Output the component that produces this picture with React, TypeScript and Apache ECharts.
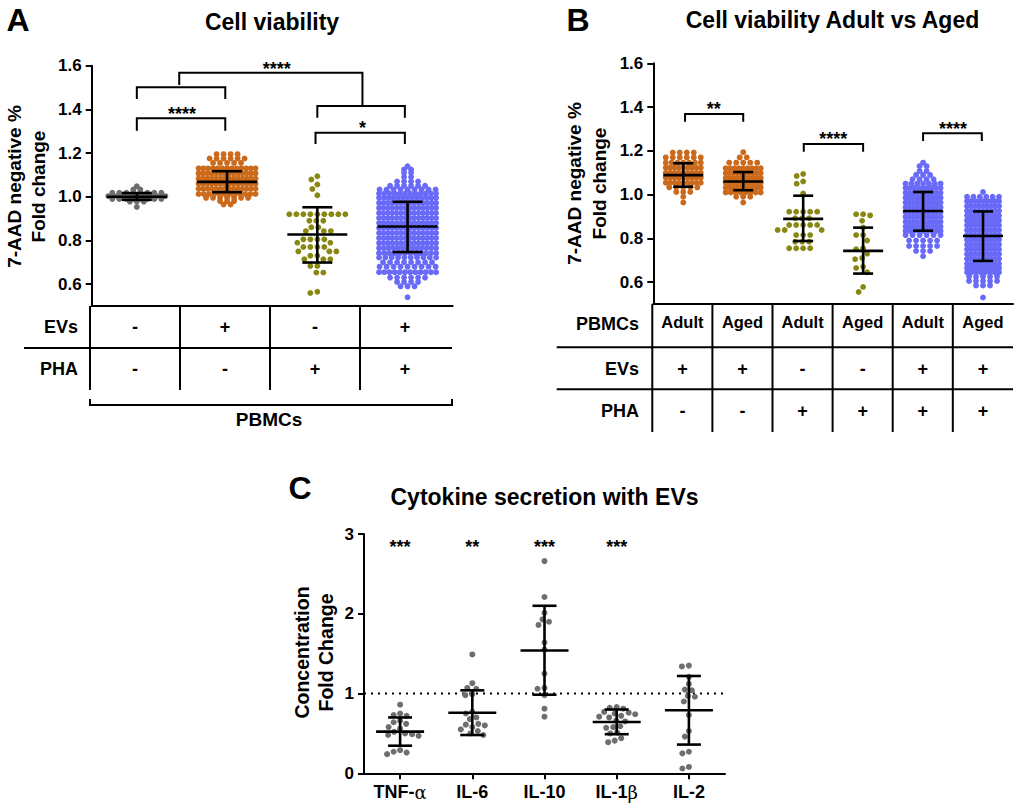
import React, { useEffect, useRef } from "react";
import * as echarts from "echarts";

const FONT = "'Liberation Sans', Arial, Helvetica, sans-serif";

// ---------------- Panel A: Cell viability ----------------
const aEVs = ["-", "+", "-", "+"];
const aPHA = ["-", "-", "+", "+"];
const aTicks = [0.6, 0.8, 1.0, 1.2, 1.4, 1.6];
// [value, number of points in that row of the swarm]
const aGrayRows = [[1.048, 1], [1.033, 2], [1.018, 8], [1.003, 14], [0.99, 8], [0.978, 3], [0.953, 1]];
const aOrangeRows = [
  [1.195, 4], [1.175, 6], [1.155, 5], [1.13, 13], [1.107, 14], [1.083, 14], [1.06, 14], [1.037, 14],
  [1.013, 12], [0.995, 7], [0.98, 3], [0.965, 2],
];
const aOliveValues = [
  1.094, 1.079, 1.056, 1.036, 1.007, 0.92, 0.92, 0.92, 0.92, 0.92, 0.92, 0.92, 0.92, 0.92, 0.89, 0.89,
  0.89, 0.861, 0.861, 0.843, 0.843, 0.843, 0.805, 0.805, 0.805, 0.805, 0.79, 0.79, 0.77, 0.77, 0.77,
  0.77, 0.75, 0.75, 0.75, 0.73, 0.73, 0.714, 0.714, 0.714, 0.683, 0.683, 0.653, 0.653, 0.565, 0.56,
];
const aBlueRows = [
  [1.14, 1], [1.125, 2], [1.11, 2], [1.09, 2], [1.07, 4], [1.05, 6], [1.033, 9], [1.015, 12],
  [0.995, 13], [0.972, 14], [0.949, 14], [0.926, 14], [0.903, 14], [0.88, 14], [0.857, 14], [0.834, 14],
  [0.811, 14], [0.788, 14], [0.765, 13], [0.742, 12], [0.722, 10], [0.7, 8], [0.68, 9], [0.655, 12],
  [0.63, 6], [0.61, 4], [0.59, 3], [0.54, 1],
];
const aMean = [1.0, 1.068, 0.827, 0.864];
const aSdHigh = [1.017, 1.117, 0.952, 0.977];
const aSdLow = [0.986, 1.021, 0.699, 0.747];
// [xLeft, xRight, yBar, yLeftEnd, yRightEnd]
const aBrackets = [
  [0.47, 2.5, 1.568, 1.512, 1.42],
  [0.0, 0.98, 1.501, 1.448, 1.448],
  [0.0, 0.98, 1.359, 1.302, 1.302],
  [2.0, 2.97, 1.416, 1.362, 1.362],
  [1.98, 2.97, 1.293, 1.242, 1.242],
];
const aStars = [[1.55, 1.602], [0.5, 1.397], [2.5, 1.334]];
const aStarLabels = ["****", "****", "*"];

// ---------------- Panel B: Adult vs Aged ----------------
const bPBMCs = ["Adult", "Aged", "Adult", "Aged", "Adult", "Aged"];
const bEVs = ["+", "+", "-", "-", "+", "+"];
const bPHA = ["-", "-", "+", "+", "+", "+"];
const bTicks = [0.6, 0.8, 1.0, 1.2, 1.4, 1.6];
const bOrangeAdultRows = [
  [1.192, 4], [1.17, 6], [1.146, 7], [1.123, 9], [1.1, 9], [1.077, 9], [1.054, 9], [1.033, 5],
  [1.012, 3], [0.99, 1], [0.964, 1],
];
const bOrangeAgedRows = [
  [1.194, 1], [1.17, 2], [1.146, 5], [1.12, 9], [1.098, 10], [1.076, 10], [1.054, 10], [1.032, 10],
  [1.01, 8], [0.99, 3], [0.964, 1],
];
const bOliveAdultValues = [
  1.094, 1.085, 1.06, 1.05, 1.005, 0.922, 0.922, 0.922, 0.922, 0.922, 0.892, 0.892, 0.892, 0.861,
  0.861, 0.861, 0.861, 0.861, 0.838, 0.838, 0.838, 0.815, 0.815, 0.815, 0.785, 0.785, 0.785, 0.755,
  0.755, 0.755, 0.755,
];
const bOliveAgedValues = [
  0.91, 0.91, 0.905, 0.88, 0.85, 0.815, 0.815, 0.79, 0.755, 0.75, 0.73, 0.71, 0.705, 0.67, 0.665,
  0.645, 0.578, 0.555,
];
const bBlueAdultRows = [
  [1.146, 1], [1.13, 2], [1.108, 2], [1.09, 3], [1.07, 4], [1.05, 7], [1.03, 9], [1.008, 10],
  [0.986, 10], [0.964, 10], [0.942, 10], [0.92, 10], [0.898, 10], [0.876, 10], [0.854, 10],
  [0.834, 9], [0.815, 6], [0.79, 5], [0.765, 5], [0.742, 3], [0.718, 1],
];
const bBlueAgedRows = [
  [1.012, 1], [0.99, 6], [0.97, 9], [0.948, 9], [0.926, 9], [0.904, 9], [0.882, 9], [0.86, 9],
  [0.838, 9], [0.816, 9], [0.794, 9], [0.772, 9], [0.75, 9], [0.728, 9], [0.706, 9], [0.684, 9],
  [0.665, 9], [0.645, 8], [0.625, 5], [0.605, 5], [0.585, 3], [0.53, 1],
];
const bMean = [1.089, 1.06, 0.889, 0.743, 0.925, 0.811];
const bSdHigh = [1.143, 1.103, 0.995, 0.849, 1.012, 0.923];
const bSdLow = [1.036, 1.02, 0.788, 0.639, 0.835, 0.697];
const bBrackets = [
  [0.03, 1.0, 1.368, 1.333, 1.333],
  [2.01, 3.0, 1.231, 1.196, 1.196],
  [4.0, 4.98, 1.28, 1.245, 1.245],
];
const bStars = [[0.51, 1.409], [2.5, 1.272], [4.5, 1.319]];
const bStarLabels = ["**", "****", "****"];

// ---------------- Panel C: Cytokines ----------------
const cLabels = ["TNF-{g|α}", "IL-6", "IL-10", "IL-1{g|β}", "IL-2"];
const cTNF = [0.86, 0.75, 0.73, 0.72, 0.66, 0.64, 0.62, 0.58, 0.56, 0.52, 0.5, 0.49, 0.48, 0.47, 0.29, 0.27, 0.26, 0.24];
const cIL6 = [1.49, 1.13, 1.07, 1.06, 0.99, 0.98, 0.77, 0.75, 0.7, 0.68, 0.62, 0.61, 0.6, 0.58, 0.55, 0.53, 0.5, 0.48];
const cIL10 = [2.66, 2.21, 2.01, 1.93, 1.9, 1.86, 1.64, 1.55, 1.25, 1.07, 1.06, 0.98, 0.81, 0.71];
const cIL1b = [0.83, 0.82, 0.81, 0.77, 0.76, 0.75, 0.74, 0.72, 0.71, 0.7, 0.66, 0.65, 0.59, 0.58, 0.57, 0.51, 0.5, 0.44, 0.41, 0.39];
const cIL2 = [1.35, 1.34, 1.21, 1.12, 1.05, 1.04, 0.97, 0.96, 0.9, 0.73, 0.53, 0.46, 0.27, 0.25, 0.08, 0.06];
const cMean = [0.522, 0.76, 1.54, 0.643, 0.79];
const cSdHigh = [0.7, 1.04, 2.1, 0.8, 1.22];
const cSdLow = [0.346, 0.48, 0.985, 0.49, 0.36];
const cStars = [[0, 2.891], [1, 2.891], [2, 2.891], [3, 2.891]];
const cStarLabels = ["***", "**", "***", "***"];
const cReference = 1;

// ---------------- layout constants ----------------
const GA = { left: 91.7, top: 65.7, width: 361, height: 240.3 };
const GB = { left: 653.3, top: 63.3, width: 359.7, height: 240.7 };
const GC = { left: 364, top: 534, width: 361, height: 239.3 };
const aPxX = GA.width / 4;
const aPxY = GA.height / 1.1;
const bPxX = GB.width / 6;
const bPxY = GB.height / 1.1;
const cPxX = GC.width / 5;
const cPxY = GC.height / 3;

const GRAY = "#6e6e6e";
const ORANGE = "#cc6a1c";
const OLIVE = "#878712";
const BLUE = "#6a6af8";
const DENSE_DOT = 5.9;

// rows of a swarm: dot spacing 7px, squeezed so that a row never exceeds maxW
function rowsToPoints(rows: number[][], cat: number, maxW: number, pxX: number) {
  const pts: number[][] = [];
  rows.forEach(([v, n]) => {
    const dx = n > 1 ? Math.min(7, maxW / (n - 1)) : 0;
    for (let i = 0; i < n; i++) pts.push([cat + ((i - (n - 1) / 2) * dx) / pxX, v]);
  });
  return pts;
}

function swarm(values: number[], cat: number, pxX: number, pxY: number, d: number) {
  const placed: number[][] = [];
  const out: number[][] = [];
  const sorted = [...values].sort((a, b) => b - a);
  for (const v of sorted) {
    const y = v * pxY;
    let best = 0;
    for (let k = 0; k < 400; k++) {
      const off = (k % 2 === 0 ? 1 : -1) * Math.ceil(k / 2) * 0.5;
      if (placed.every(([px, py]) => Math.hypot(px - off, py - y) >= d)) {
        best = off;
        break;
      }
    }
    placed.push([best, y]);
    out.push([cat + best / pxX, v]);
  }
  return out;
}

function scatter(xi: number, data: number[][], color: string, size: number) {
  return {
    type: "scatter",
    xAxisIndex: xi,
    yAxisIndex: xi,
    data,
    symbol: "circle",
    symbolSize: size,
    itemStyle: { color, opacity: 1 },
    silent: true,
    z: 2,
  };
}

function errorSeries(xi: number, mean: number[], hi: number[], lo: number[], meanHalf: number, capHalf: number, lw: number) {
  return {
    type: "custom",
    xAxisIndex: xi,
    yAxisIndex: xi,
    silent: true,
    z: 5,
    data: mean.map((m, i) => [i, m, hi[i], lo[i]]),
    renderItem: (_p: any, api: any) => {
      const x = api.value(0);
      const pm = api.coord([x, api.value(1)]);
      const ph = api.coord([x, api.value(2)]);
      const pl = api.coord([x, api.value(3)]);
      const style = { stroke: "#000", lineWidth: lw };
      return {
        type: "group",
        children: [
          { type: "line", shape: { x1: pm[0] - meanHalf, y1: pm[1], x2: pm[0] + meanHalf, y2: pm[1] }, style },
          { type: "line", shape: { x1: ph[0], y1: ph[1], x2: pl[0], y2: pl[1] }, style },
          { type: "line", shape: { x1: ph[0] - capHalf, y1: ph[1], x2: ph[0] + capHalf, y2: ph[1] }, style },
          { type: "line", shape: { x1: pl[0] - capHalf, y1: pl[1], x2: pl[0] + capHalf, y2: pl[1] }, style },
        ],
      };
    },
  };
}

function bracketSeries(xi: number, brackets: number[][]) {
  return {
    type: "custom",
    xAxisIndex: xi,
    yAxisIndex: xi,
    silent: true,
    z: 5,
    data: brackets,
    renderItem: (_p: any, api: any) => {
      const a = api.coord([api.value(0), api.value(3)]);
      const b = api.coord([api.value(0), api.value(2)]);
      const c = api.coord([api.value(1), api.value(2)]);
      const d = api.coord([api.value(1), api.value(4)]);
      return {
        type: "polyline",
        shape: { points: [a, b, c, d] },
        style: { stroke: "#000", fill: null, lineWidth: 2 },
      };
    },
  };
}

function starSeries(xi: number, pos: number[][], labels: string[], size: number, offset: number) {
  return {
    type: "custom",
    xAxisIndex: xi,
    yAxisIndex: xi,
    silent: true,
    z: 6,
    data: pos,
    renderItem: (p: any, api: any) => {
      const c = api.coord([api.value(0), api.value(1)]);
      return {
        type: "text",
        x: c[0],
        y: c[1] + offset,
        style: {
          text: labels[p.dataIndex],
          fill: "#000",
          font: `bold ${size}px ${FONT}`,
          align: "center",
          verticalAlign: "middle",
        },
      };
    },
  };
}

const axisLineStyle = { color: "#000", width: 2 };
const tickLabel = { color: "#000", fontWeight: "bold", fontSize: 17, fontFamily: FONT, margin: 10 };

function txt(x: number, y: number, text: string, size: number, opts: any = {}) {
  return {
    type: "text",
    x,
    y,
    silent: true,
    rotation: opts.rotation || 0,
    style: {
      text,
      fill: "#000",
      font: `${opts.weight || "bold"} ${size}px ${FONT}`,
      align: opts.align || "center",
      verticalAlign: "middle",
    },
  };
}

function ln(x1: number, y1: number, x2: number, y2: number) {
  return { type: "line", silent: true, shape: { x1, y1, x2, y2 }, style: { stroke: "#000", lineWidth: 2 } };
}

function buildGraphics() {
  const els: any[] = [];
  // panel letters and titles
  els.push(txt(18, 20, "A", 32));
  els.push(txt(578, 20, "B", 32));
  els.push(txt(300, 488, "C", 32));
  els.push(txt(272, 22, "Cell viability", 23));
  els.push(txt(832.5, 20, "Cell viability Adult vs Aged", 23));
  els.push(txt(544.5, 497, "Cytokine secretion with EVs", 23));
  // y titles
  els.push(txt(14.5, 186.5, "7-AAD negative %", 19, { rotation: Math.PI / 2 }));
  els.push(txt(38.5, 186.5, "Fold change", 19, { rotation: Math.PI / 2 }));
  els.push(txt(574.5, 183.5, "7-AAD negative %", 19, { rotation: Math.PI / 2 }));
  els.push(txt(599, 183.5, "Fold change", 19, { rotation: Math.PI / 2 }));
  els.push(txt(302, 652.5, "Concentration", 19.5, { rotation: Math.PI / 2 }));
  els.push(txt(325.5, 652.5, "Fold Change", 19.5, { rotation: Math.PI / 2 }));

  // table A
  for (let i = 0; i < 4; i++) els.push(ln(90 + i * 90, 306, 90 + i * 90, 390));
  els.push(ln(24, 348, 452, 348));
  els.push(txt(78, 327, "EVs", 18, { align: "right" }));
  els.push(txt(78, 369, "PHA", 18, { align: "right" }));
  aEVs.forEach((s, i) => els.push(txt(135 + i * 90, 327, s, 18)));
  aPHA.forEach((s, i) => els.push(txt(135 + i * 90, 369, s, 18)));
  els.push({
    type: "polyline",
    silent: true,
    shape: { points: [[90, 399], [90, 405], [452, 405], [452, 399]] },
    style: { stroke: "#000", fill: null, lineWidth: 2 },
  });
  els.push(txt(269, 419, "PBMCs", 19));

  // table B
  for (let i = 0; i < 6; i++) els.push(ln(652.3 + i * 60.1, 304, 652.3 + i * 60.1, 432));
  els.push(ln(556.7, 347.3, 1013, 347.3));
  els.push(ln(556.7, 389.3, 1013, 389.3));
  els.push(txt(639, 324, "PBMCs", 18, { align: "right" }));
  els.push(txt(639, 368.5, "EVs", 18, { align: "right" }));
  els.push(txt(639, 410.5, "PHA", 18, { align: "right" }));
  bPBMCs.forEach((s, i) => els.push(txt(682.4 + i * 60.1, 322, s, 16.5)));
  bEVs.forEach((s, i) => els.push(txt(682.4 + i * 60.1, 368.5, s, 18)));
  bPHA.forEach((s, i) => els.push(txt(682.4 + i * 60.1, 410.5, s, 18)));
  return els;
}

function buildOption() {
  const aSeries = [
    scatter(0, rowsToPoints(aGrayRows, 0, 57, aPxX), GRAY, DENSE_DOT),
    scatter(0, rowsToPoints(aOrangeRows, 1, 57, aPxX), ORANGE, DENSE_DOT),
    scatter(0, swarm(aOliveValues, 2, aPxX, aPxY, 6.6), OLIVE, 5.8),
    scatter(0, rowsToPoints(aBlueRows, 3, 57, aPxX), BLUE, DENSE_DOT),
    errorSeries(0, aMean, aSdHigh, aSdLow, 30, 15, 2.6),
    bracketSeries(0, aBrackets),
    starSeries(0, aStars, aStarLabels, 18, 4),
  ];
  const bSeries = [
    scatter(1, rowsToPoints(bOrangeAdultRows, 0, 35, bPxX), ORANGE, DENSE_DOT),
    scatter(1, rowsToPoints(bOrangeAgedRows, 1, 35, bPxX), ORANGE, DENSE_DOT),
    scatter(1, swarm(bOliveAdultValues, 2, bPxX, bPxY, 6.6), OLIVE, 5.8),
    scatter(1, swarm(bOliveAgedValues, 3, bPxX, bPxY, 6.6), OLIVE, 5.8),
    scatter(1, rowsToPoints(bBlueAdultRows, 4, 35, bPxX), BLUE, DENSE_DOT),
    scatter(1, rowsToPoints(bBlueAgedRows, 5, 32, bPxX), BLUE, DENSE_DOT),
    errorSeries(1, bMean, bSdHigh, bSdLow, 20, 10, 2.6),
    bracketSeries(1, bBrackets),
    starSeries(1, bStars, bStarLabels, 18, 4),
  ];
  const cGroups = [cTNF, cIL6, cIL10, cIL1b, cIL2];
  const cSeries: any[] = cGroups.map((g, i) => scatter(2, swarm(g, i, cPxX, cPxY, 6.6), GRAY, 6));
  cSeries.push({
    type: "line",
    xAxisIndex: 2,
    yAxisIndex: 2,
    data: [[-0.5, cReference], [4.5, cReference]],
    symbol: "none",
    silent: true,
    lineStyle: { color: "#000", width: 2, type: [2, 5] },
    z: 1,
  });
  cSeries.push(errorSeries(2, cMean, cSdHigh, cSdLow, 24, 12, 2.6));
  cSeries.push(starSeries(2, cStars, cStarLabels, 18, 4));

  const hiddenX = (gi: number, max: number) => ({
    gridIndex: gi,
    type: "value",
    min: -0.5,
    max,
    axisLine: { show: true, onZero: false, lineStyle: axisLineStyle },
    axisTick: { show: false },
    axisLabel: { show: false },
    splitLine: { show: false },
  });

  return {
    animation: false,
    backgroundColor: "#fff",
    grid: [
      { ...GA, containLabel: false },
      { ...GB, containLabel: false },
      { ...GC, containLabel: false },
    ],
    xAxis: [
      hiddenX(0, 3.5),
      hiddenX(1, 5.5),
      {
        gridIndex: 2,
        type: "value",
        min: -0.5,
        max: 4.5,
        axisLine: { show: true, onZero: false, lineStyle: axisLineStyle },
        axisTick: { show: true, customValues: [0, 1, 2, 3, 4], length: 6, lineStyle: axisLineStyle },
        axisLabel: {
          show: true,
          customValues: [0, 1, 2, 3, 4],
          formatter: (v: number) => cLabels[Math.round(v)],
          color: "#000",
          fontWeight: "bold",
          fontSize: 18,
          fontFamily: FONT,
          margin: 10,
          rich: { g: { fontFamily: "'DejaVu Serif', serif", fontSize: 18, fontWeight: "normal", color: "#000" } },
        },
        splitLine: { show: false },
      },
    ],
    yAxis: [
      {
        gridIndex: 0,
        type: "value",
        min: 0.5,
        max: 1.6,
        axisLine: { show: true, onZero: false, lineStyle: axisLineStyle },
        axisTick: { show: true, customValues: aTicks, length: 6, lineStyle: axisLineStyle },
        axisLabel: { ...tickLabel, customValues: aTicks, formatter: (v: number) => v.toFixed(1) },
        splitLine: { show: false },
      },
      {
        gridIndex: 1,
        type: "value",
        min: 0.5,
        max: 1.6,
        axisLine: { show: true, onZero: false, lineStyle: axisLineStyle },
        axisTick: { show: true, customValues: bTicks, length: 6, lineStyle: axisLineStyle },
        axisLabel: { ...tickLabel, customValues: bTicks, formatter: (v: number) => v.toFixed(1) },
        splitLine: { show: false },
      },
      {
        gridIndex: 2,
        type: "value",
        min: 0,
        max: 3,
        interval: 1,
        axisLine: { show: true, onZero: false, lineStyle: axisLineStyle },
        axisTick: { show: true, length: 6, lineStyle: axisLineStyle },
        axisLabel: { ...tickLabel },
        splitLine: { show: false },
      },
    ],
    series: [...aSeries, ...bSeries, ...cSeries],
    graphic: { elements: buildGraphics() },
  };
}

export default function App() {
  const ref = useRef<HTMLDivElement>(null);
  useEffect(() => {
    const chart = echarts.init(ref.current!, null, { renderer: "svg" });
    chart.setOption(buildOption() as any);
    return () => chart.dispose();
  }, []);
  return (
    <div
      ref={ref}
      style={{ position: "absolute", left: 0, top: 0, width: 1020, height: 812, background: "#fff" }}
    />
  );
}
